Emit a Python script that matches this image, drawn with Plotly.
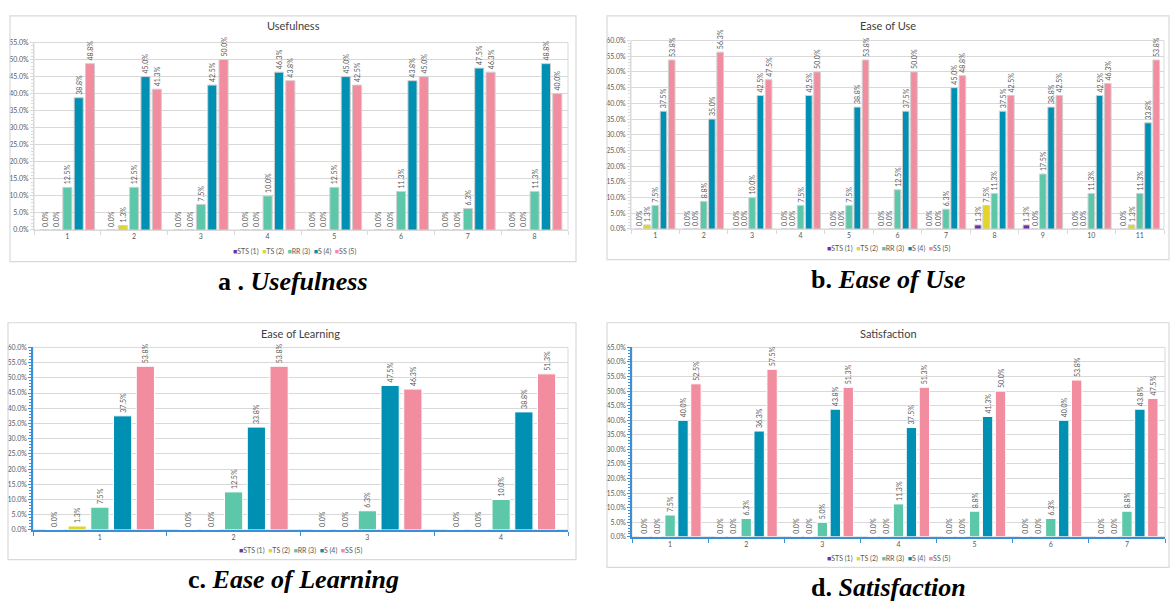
import plotly.graph_objects as go
from plotly.subplots import make_subplots

series_names = ["STS (1)", "TS (2)", "RR (3)", "S (4)", "SS (5)"]
series_colors = ["#7030A0", "#E3D42B", "#5DC8A9", "#0090B3", "#F28C9F"]

# Usefulness
use_cats = ["1", "2", "3", "4", "5", "6", "7", "8"]
use_sts = [0, 0, 0, 0, 0, 0, 0, 0]
use_ts = [0, 1.3, 0, 0, 0, 0, 0, 0]
use_rr = [12.5, 12.5, 7.5, 10.0, 12.5, 11.3, 6.3, 11.3]
use_s = [38.8, 45.0, 42.5, 46.3, 45.0, 43.8, 47.5, 48.8]
use_ss = [48.8, 41.3, 50.0, 43.8, 42.5, 45.0, 46.3, 40.0]

# Ease of Use
eou_cats = ["1", "2", "3", "4", "5", "6", "7", "8", "9", "10", "11"]
eou_sts = [0, 0, 0, 0, 0, 0, 0, 1.3, 1.3, 0, 0]
eou_ts = [1.3, 0, 0, 0, 0, 0, 0, 7.5, 0, 0, 1.3]
eou_rr = [7.5, 8.8, 10.0, 7.5, 7.5, 12.5, 6.3, 11.3, 17.5, 11.3, 11.3]
eou_s = [37.5, 35.0, 42.5, 42.5, 38.8, 37.5, 45.0, 37.5, 38.8, 42.5, 33.8]
eou_ss = [53.8, 56.3, 47.5, 50.0, 53.8, 50.0, 48.8, 42.5, 42.5, 46.3, 53.8]

# Ease of Learning
eol_cats = ["1", "2", "3", "4"]
eol_sts = [0, 0, 0, 0]
eol_ts = [1.3, 0, 0, 0]
eol_rr = [7.5, 12.5, 6.3, 10.0]
eol_s = [37.5, 33.8, 47.5, 38.8]
eol_ss = [53.8, 53.8, 46.3, 51.3]

# Satisfaction
sat_cats = ["1", "2", "3", "4", "5", "6", "7"]
sat_sts = [0, 0, 0, 0, 0, 0, 0]
sat_ts = [0, 0, 0, 0, 0, 0, 0]
sat_rr = [7.5, 6.3, 5.0, 11.3, 8.8, 6.3, 8.8]
sat_s = [40.0, 36.3, 43.8, 37.5, 41.3, 40.0, 43.8]
sat_ss = [52.5, 57.5, 51.3, 51.3, 50.0, 53.8, 47.5]

chart_titles = ["Usefulness", "Ease of Use", "Ease of Learning", "Satisfaction"]
caption_prefix = ["a . ", "b. ", "c. ", "d. "]
y_max = [55, 60, 60, 65]

panels = [
    (use_cats, [use_sts, use_ts, use_rr, use_s, use_ss]),
    (eou_cats, [eou_sts, eou_ts, eou_rr, eou_s, eou_ss]),
    (eol_cats, [eol_sts, eol_ts, eol_rr, eol_s, eol_ss]),
    (sat_cats, [sat_sts, sat_ts, sat_rr, sat_s, sat_ss]),
]

W, H = 1170, 603
# plot areas (x0, x1, ytop, ybottom) in pixels
plot_px = [(34, 568, 38, 228), (631, 1164, 36, 227), (33, 568, 347, 532), (632, 1165, 347, 539)]
frame_px = [(10, 576, 11, 260), (607, 1169, 11, 258), (8, 576, 322, 562), (607, 1169, 322, 570)]
title_px = [(293, 21), (888, 21), (300, 333), (888, 333)]
legend_px = [(294, 250), (888, 247), (300, 553), (888, 561)]
caption_px = [(293, 280), (888, 278), (293, 582), (888, 590)]
axis_col = ["#D9D9D9", "#D9D9D9", "#3A8FD8", "#3A8FD8"]
bar_line = ["#D0D0D0", "#D0D0D0", "#FFFFFF", "#FFFFFF"]

fig = make_subplots(rows=2, cols=2)
pos = [(1, 1), (1, 2), (2, 1), (2, 2)]
txt_col = "#595959"

for p, (cats, vals) in enumerate(panels):
    r, c = pos[p]
    for name, color, v in zip(series_names, series_colors, vals):
        fig.add_trace(go.Bar(
            x=cats, y=v, name=name, marker_color=color,
            marker_line=dict(color=bar_line[p], width=1),
            text=[f"{t:.1f}%" for t in v], textposition="outside",
            textangle=-90, constraintext="none", cliponaxis=False,
            textfont=dict(size=7, color=txt_col, family="Lato"),
            showlegend=False,
        ), row=r, col=c)

for p in range(4):
    x0, x1, yt, yb = plot_px[p]
    xa = "xaxis" if p == 0 else f"xaxis{p+1}"
    ya = "yaxis" if p == 0 else f"yaxis{p+1}"
    fig.layout[xa].update(domain=[x0 / W, x1 / W], tickson="boundaries", ticks="outside",
                          ticklen=4, tickcolor=axis_col[p], showline=True,
                          linecolor=axis_col[p], linewidth=1 if p < 2 else 1.5,
                          tickfont=dict(size=7, color=txt_col, family="Lato"),
                          showgrid=False, fixedrange=True)
    fig.layout[ya].update(domain=[1 - yb / H, 1 - yt / H], range=[0, y_max[p]], dtick=5,
                          tickformat=".1f", ticksuffix="%", showline=True,
                          linecolor=axis_col[p], linewidth=1 if p < 2 else 1.5,
                          ticks="outside", ticklen=3, tickcolor=axis_col[p],
                          minor=dict(ticks="outside", ticklen=2, dtick=1, tickcolor=axis_col[p]),
                          gridcolor="#D9D9D9", gridwidth=1, zeroline=False,
                          tickfont=dict(size=7, color=txt_col, family="Lato"), fixedrange=True)
    # plot area border
    xr = "x" if p == 0 else f"x{p+1}"
    yr = "y" if p == 0 else f"y{p+1}"
    fig.add_shape(type="rect", xref=f"{xr} domain", yref=f"{yr} domain", x0=0, x1=1, y0=0, y1=1,
                  line=dict(color="#D9D9D9", width=1), layer="below")
    # chart frame
    fx0, fx1, fy0, fy1 = frame_px[p]
    fig.add_shape(type="rect", xref="paper", yref="paper", x0=fx0 / W, x1=fx1 / W,
                  y0=1 - fy1 / H, y1=1 - fy0 / H, line=dict(color="#D9D9D9", width=1.2))
    # title
    tx, ty = title_px[p]
    fig.add_annotation(x=tx / W, y=1 - ty / H, xref="paper", yref="paper", showarrow=False,
                       text=chart_titles[p], font=dict(size=11, color="#404040", family="Lato"),
                       xanchor="center", yanchor="middle")
    # legend (colored squares + names)
    lx, ly = legend_px[p]
    leg = "&nbsp;&nbsp;".join(f'<span style="color:{c}">■</span>{n}'
                              for n, c in zip(series_names, series_colors))
    fig.add_annotation(x=lx / W, y=1 - ly / H, xref="paper", yref="paper", showarrow=False,
                       text=leg, font=dict(size=7, color=txt_col, family="Lato"),
                       xanchor="center", yanchor="middle")
    # caption
    cx, cy = caption_px[p]
    fig.add_annotation(x=cx / W, y=1 - cy / H, xref="paper", yref="paper", showarrow=False,
                       text=f"<b>{caption_prefix[p]}<i>{chart_titles[p]}</i></b>",
                       font=dict(size=26, color="#000000",
                                 family="Liberation Serif, Times New Roman, serif"),
                       xanchor="center", yanchor="middle")

fig.update_layout(width=W, height=H, margin=dict(l=0, r=0, t=0, b=0),
                  paper_bgcolor="white", plot_bgcolor="white",
                  barmode="group", bargap=0.15, bargroupgap=0.2, showlegend=False)

fig.write_html("out.html", config={"displayModeBar": False})
